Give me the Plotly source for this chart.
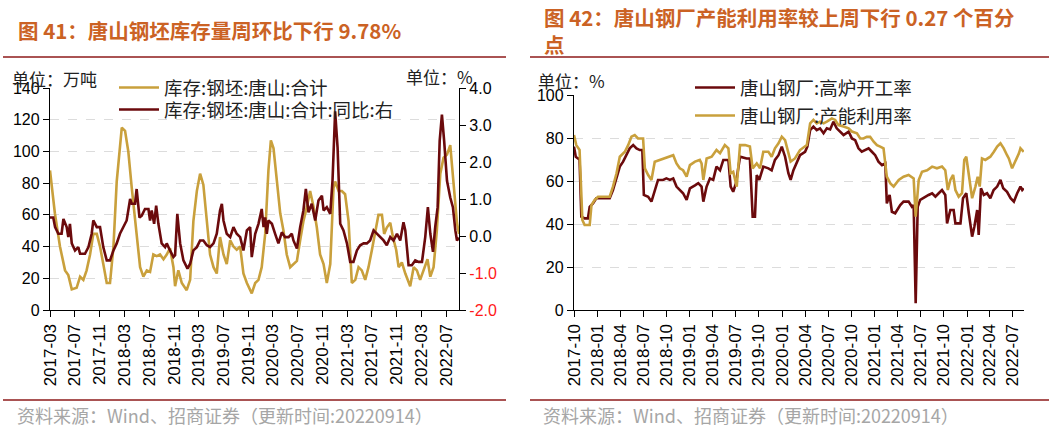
import plotly.graph_objects as go

W, H = 1053, 429

# ---- 图41: 唐山钢坯库存 (万吨) ----
stock_dates = [
    "2017-03-01", "2017-03-25", "2017-04-19", "2017-05-14", "2017-05-30", "2017-06-16", "2017-07-10",
    "2017-07-27", "2017-08-12", "2017-08-28", "2017-09-14", "2017-09-30", "2017-10-17", "2017-11-02",
    "2017-11-18", "2017-12-05", "2017-12-21", "2018-01-07", "2018-01-23", "2018-02-17", "2018-03-05",
    "2018-03-21", "2018-04-07", "2018-04-23", "2018-05-18", "2018-06-03", "2018-06-20", "2018-07-06",
    "2018-07-22", "2018-08-08", "2018-08-24", "2018-09-10", "2018-09-26", "2018-10-12", "2018-10-29",
    "2018-11-06", "2018-11-22", "2018-12-09", "2019-01-02", "2019-01-19", "2019-02-04", "2019-02-21",
    "2019-03-09", "2019-03-25", "2019-04-11", "2019-04-27", "2019-05-14", "2019-05-30", "2019-06-15",
    "2019-07-02", "2019-07-18", "2019-08-04", "2019-08-20", "2019-09-05", "2019-09-22", "2019-10-08",
    "2019-10-25", "2019-11-18", "2019-12-05", "2019-12-21", "2020-01-06", "2020-01-23", "2020-02-08",
    "2020-02-20", "2020-03-04", "2020-03-20", "2020-04-06", "2020-04-22", "2020-05-08", "2020-05-25",
    "2020-06-10", "2020-06-27", "2020-07-13", "2020-07-29", "2020-08-15", "2020-08-31", "2020-09-17",
    "2020-10-03", "2020-10-19", "2020-11-05", "2020-11-21", "2020-12-08", "2020-12-24", "2021-01-01",
    "2021-01-18", "2021-02-03", "2021-02-19", "2021-03-08", "2021-03-24", "2021-04-10", "2021-04-26",
    "2021-05-12", "2021-05-29", "2021-06-14", "2021-07-01", "2021-07-17", "2021-08-02", "2021-08-19",
    "2021-08-30", "2021-09-12", "2021-09-29", "2021-10-12", "2021-10-28", "2021-11-09", "2021-11-25",
    "2021-12-12", "2022-01-05", "2022-01-22", "2022-02-07", "2022-02-23", "2022-03-12", "2022-03-31",
    "2022-04-14", "2022-04-30", "2022-05-16", "2022-06-02", "2022-06-18", "2022-07-05", "2022-07-21",
    "2022-08-06", "2022-08-23", "2022-09-02",
]
stock_total = [
    88, 61, 40, 25, 22, 13, 14, 21, 19, 25, 35, 48, 48, 40, 29, 17, 17, 40, 81, 115, 113,
    100, 77, 56, 27, 21, 25, 24, 35, 34, 35, 32, 35, 39, 27, 15, 25, 17, 12.5, 19, 56, 75,
    86, 79, 56, 35, 27, 23, 46, 35, 29, 44, 40, 38, 40, 23, 17, 10.5, 17, 19, 27, 48, 88,
    107, 102, 81, 61, 50, 35, 27, 29, 31, 44, 56, 65, 75, 65, 52, 35, 29, 17, 29, 77, 81,
    75, 75, 73, 56, 17, 19, 27, 25, 19, 27, 38, 50, 60, 60, 48, 52, 55, 46, 38, 27, 30,
    23, 15, 27, 25, 19, 25, 32, 21, 27, 50, 86, 96, 98, 104, 81, 55, 48,
]

yoy_dates = [
    "2017-03-01", "2017-03-17", "2017-03-26", "2017-04-11", "2017-04-27", "2017-05-06", "2017-05-22",
    "2017-05-30", "2017-06-07", "2017-06-16", "2017-07-02", "2017-07-18", "2017-07-27", "2017-08-20",
    "2017-09-06", "2017-09-22", "2017-09-30", "2017-10-17", "2017-11-02", "2017-11-18", "2017-12-05",
    "2017-12-21", "2018-01-07", "2018-01-23", "2018-02-08", "2018-02-25", "2018-03-13", "2018-03-30",
    "2018-04-07", "2018-04-23", "2018-05-01", "2018-05-15", "2018-05-26", "2018-06-11", "2018-06-28",
    "2018-07-06", "2018-07-14", "2018-07-26", "2018-08-05", "2018-08-16", "2018-09-01", "2018-09-18",
    "2018-09-26", "2018-10-12", "2018-10-29", "2018-11-06", "2018-11-17", "2018-12-01", "2018-12-17",
    "2019-01-06", "2019-01-19", "2019-02-04", "2019-02-21", "2019-03-09", "2019-03-25", "2019-04-11",
    "2019-04-27", "2019-05-14", "2019-05-30", "2019-06-15", "2019-06-24", "2019-07-02", "2019-07-18",
    "2019-08-04", "2019-08-20", "2019-09-05", "2019-09-22", "2019-10-08", "2019-10-25", "2019-11-10",
    "2019-11-18", "2019-12-05", "2019-12-21", "2020-01-06", "2020-01-15", "2020-01-23", "2020-01-31",
    "2020-02-08", "2020-02-25", "2020-03-12", "2020-03-28", "2020-04-14", "2020-04-30", "2020-05-17",
    "2020-06-02", "2020-06-10", "2020-06-27", "2020-07-13", "2020-07-29", "2020-08-10", "2020-08-23",
    "2020-09-08", "2020-09-25", "2020-10-11", "2020-10-28", "2020-11-05", "2020-11-21", "2020-12-08",
    "2020-12-19", "2021-01-01", "2021-01-13", "2021-01-26", "2021-02-11", "2021-02-28", "2021-03-16",
    "2021-04-01", "2021-04-18", "2021-05-04", "2021-05-21", "2021-06-06", "2021-06-22", "2021-07-09",
    "2021-07-25", "2021-08-11", "2021-08-27", "2021-09-12", "2021-09-29", "2021-10-15", "2021-11-01",
    "2021-11-17", "2021-12-03", "2021-12-12", "2021-12-28", "2022-01-13", "2022-01-30", "2022-02-15",
    "2022-03-04", "2022-03-20", "2022-04-02", "2022-04-14", "2022-04-27", "2022-05-08", "2022-05-20",
    "2022-05-30", "2022-06-10", "2022-06-21", "2022-07-05", "2022-07-21", "2022-08-03", "2022-08-15",
    "2022-08-23", "2022-09-02",
]
stock_yoy = [
    0.5, 0.5, 0.24, 0.06, 0.06, 0.46, 0.24, -0.03, 0.33, -0.2, -0.39, -0.3, -0.48, -0.48,
    -0.3, 0.06, 0.42, 0.24, 0.24, -0.3, -0.66, -0.66, -0.39, -0.2, 0.06, 0.24, 0.42, 1.0,
    0.87, 0.87, 1.27, 0.5, 0.55, 0.73, 0.73, 0.42, 0.69, 0.33, 0.82, 0.33, -0.2, -0.3,
    -0.2, -0.39, -0.57, -0.52, 0.6, -0.2, -0.66, -0.88, -0.75, -0.39, -0.3, -0.12, -0.12, -0.25,
    -0.3, -0.2, 0.06, 0.69, 0.87, 0.42, 0.06, -0.03, 0.24, 0.06, -0.03, -0.39, 0.15, 0.24,
    -0.57, 0.06, 0.33, 0.73, 0.24, 0.5, 0.06, 0.42, 0.33, 0.06, -0.2, 0.1, -0.03, -0.03,
    0.06, -0.12, -0.34, 0.24, 0.69, 1.27, 0.64, 0.87, 0.42, 0.96, 1.09, 0.69, 0.78, 0.6,
    1.49, 3.37, 2.39, 0.33, 0.15, -0.2, -0.7, -0.7, -0.39, -0.25, -0.2, -0.2, -0.12, 0.15,
    0.06, -0.03, -0.12, -0.25, -0.03, -0.12, 0.06, -0.12, 0.37, 0.15, -0.79, -0.79, -0.66, -0.7,
    -0.7, -0.03, 0.78, 0.06, -0.43, 0.24, 0.78, 2.57, 3.28, 2.57, 1.49, 1.04, 0.78, 0.15,
    -0.12, -0.05,
]

# ---- 图42: 唐山钢厂高炉开工率 / 产能利用率 (%) ----
bf_dates = [
    "2017-10-01", "2017-10-08", "2017-10-17", "2017-10-23", "2017-10-30", "2017-11-12", "2017-11-25",
    "2017-12-02", "2017-12-15", "2017-12-28", "2018-02-06", "2018-02-19", "2018-03-04", "2018-03-18",
    "2018-03-31", "2018-04-13", "2018-04-26", "2018-05-09", "2018-05-23", "2018-06-05", "2018-06-18",
    "2018-06-28", "2018-07-04", "2018-07-21", "2018-08-03", "2018-08-16", "2018-08-29", "2018-09-18",
    "2018-10-01", "2018-10-15", "2018-10-28", "2018-11-10", "2018-11-23", "2018-12-06", "2018-12-20",
    "2019-01-02", "2019-01-22", "2019-02-04", "2019-02-17", "2019-02-24", "2019-03-09", "2019-03-22",
    "2019-04-04", "2019-04-17", "2019-05-01", "2019-05-14", "2019-06-03", "2019-06-12", "2019-06-22",
    "2019-07-03", "2019-07-19", "2019-08-14", "2019-08-27", "2019-09-07", "2019-09-16", "2019-09-23",
    "2019-10-03", "2019-10-19", "2019-11-08", "2019-11-21", "2019-12-04", "2019-12-18", "2019-12-31",
    "2020-01-13", "2020-01-26", "2020-02-04", "2020-02-15", "2020-02-28", "2020-03-12", "2020-04-01",
    "2020-04-10", "2020-04-21", "2020-05-04", "2020-05-17", "2020-05-30", "2020-06-13", "2020-06-26",
    "2020-07-09", "2020-07-22", "2020-08-04", "2020-08-18", "2020-08-31", "2020-09-20", "2020-10-03",
    "2020-10-16", "2020-10-29", "2020-11-11", "2020-11-25", "2020-12-08", "2020-12-21", "2021-01-03",
    "2021-01-16", "2021-01-30", "2021-02-12", "2021-02-18", "2021-03-01", "2021-03-10", "2021-03-23",
    "2021-04-12", "2021-04-25", "2021-05-15", "2021-05-28", "2021-06-04", "2021-06-12", "2021-06-20",
    "2021-06-30", "2021-07-20", "2021-08-02", "2021-08-16", "2021-08-29", "2021-09-11", "2021-09-24",
    "2021-10-07", "2021-10-14", "2021-10-27", "2021-11-09", "2021-11-16", "2021-12-06", "2021-12-16",
    "2021-12-29", "2022-01-08", "2022-01-21", "2022-01-30", "2022-02-10", "2022-02-16", "2022-02-25",
    "2022-03-08", "2022-03-21", "2022-04-03", "2022-04-16", "2022-04-30", "2022-05-13", "2022-05-24",
    "2022-06-08", "2022-06-22", "2022-07-05", "2022-07-18", "2022-07-31", "2022-08-07", "2022-08-13",
]
bf_rate = [
    76, 71.3, 70.5, 69.8, 43.4, 42.6, 42.6, 48, 49.6, 52, 52, 52, 55.8, 62,
    66.7, 69, 72, 75.2, 76.7, 75.2, 74.4, 74.4, 53.5, 52.7, 50.4, 55.8, 60.5, 60.5,
    61.2, 60.5, 61.2, 57.4, 55.8, 54.3, 51.2, 56.6, 58, 59, 57.4, 50.4, 57.4, 61.2,
    60.5, 66.7, 65, 69.8, 69.8, 57.4, 55, 59, 71.3, 70.5, 70.5, 43.4, 43.4, 62.8,
    60.5, 66.7, 65.9, 65, 69.8, 72, 76, 71.3, 63.6, 60.5, 65, 68.2, 72, 73.6,
    76, 83.7, 85.3, 83.7, 84.5, 82.2, 84.5, 84, 87.6, 84.5, 83, 81.4, 83, 79.8,
    79, 75.2, 73.6, 74.4, 75.2, 73.6, 72, 69, 67.4, 68.2, 49.6, 53.5, 45.7, 45,
    48.8, 50.4, 50.4, 48, 48.8, 3.1, 48, 51.2, 52.7, 53.5, 54.3, 52.7, 54.3, 55.8,
    53.5, 40.3, 46.5, 46.5, 40.3, 40.3, 52, 54.3, 45, 34.1, 38.8, 46.5, 34.9, 56.6,
    53.5, 54.3, 52, 55.8, 57.4, 60.5, 56.6, 55, 52, 50.4, 54.3, 57.4, 55.8, 56.6,
]

cap_dates = [
    "2017-10-01", "2017-10-10", "2017-10-23", "2017-11-03", "2017-11-12", "2017-12-02", "2017-12-09",
    "2017-12-22", "2018-01-04", "2018-02-19", "2018-03-04", "2018-03-18", "2018-03-31", "2018-04-20",
    "2018-05-03", "2018-05-16", "2018-05-29", "2018-06-11", "2018-07-01", "2018-07-08", "2018-07-21",
    "2018-08-03", "2018-08-16", "2018-09-05", "2018-09-25", "2018-10-15", "2018-10-28", "2018-11-10",
    "2018-11-23", "2018-12-06", "2018-12-20", "2019-01-02", "2019-01-22", "2019-02-10", "2019-02-17",
    "2019-02-24", "2019-03-09", "2019-03-29", "2019-04-17", "2019-05-01", "2019-05-20", "2019-06-03",
    "2019-06-12", "2019-06-22", "2019-07-06", "2019-07-19", "2019-08-08", "2019-08-27", "2019-09-07",
    "2019-09-23", "2019-10-06", "2019-10-19", "2019-11-08", "2019-11-21", "2019-12-04", "2019-12-18",
    "2019-12-31", "2020-01-13", "2020-01-26", "2020-02-04", "2020-02-21", "2020-03-12", "2020-04-08",
    "2020-04-21", "2020-05-04", "2020-05-17", "2020-05-30", "2020-06-13", "2020-06-26", "2020-07-16",
    "2020-07-29", "2020-08-11", "2020-08-31", "2020-09-20", "2020-10-03", "2020-10-23", "2020-11-05",
    "2020-11-18", "2020-12-01", "2020-12-14", "2020-12-28", "2021-01-10", "2021-01-23", "2021-02-05",
    "2021-02-18", "2021-03-04", "2021-03-17", "2021-04-06", "2021-04-25", "2021-05-15", "2021-06-04",
    "2021-06-12", "2021-06-24", "2021-07-07", "2021-07-27", "2021-08-16", "2021-09-04", "2021-09-24",
    "2021-10-07", "2021-10-17", "2021-10-27", "2021-11-07", "2021-11-16", "2021-11-29", "2021-12-12",
    "2021-12-21", "2021-12-29", "2022-01-08", "2022-01-21", "2022-02-03", "2022-02-12", "2022-02-20",
    "2022-03-01", "2022-03-14", "2022-04-03", "2022-04-17", "2022-04-30", "2022-05-13", "2022-05-26",
    "2022-06-08", "2022-06-15", "2022-06-28", "2022-07-11", "2022-07-25", "2022-07-31", "2022-08-13",
]
cap_rate = [
    81.4, 76.7, 74.4, 41.9, 39.5, 39.5, 48.8, 51.2, 52.7, 52.7, 57.4, 63.6, 71.3, 73.6,
    76.7, 80.6, 81.4, 79.8, 79.8, 65.9, 62.8, 60.5, 69, 69.8, 70.5, 71.3, 72, 68.2,
    65.9, 65, 62, 67.4, 69, 69.8, 68.2, 60.5, 70.5, 71.3, 74.4, 72.9, 76.7, 75.2,
    63.6, 64.3, 57.4, 76.7, 76.7, 76, 65.9, 68.2, 65.9, 73.6, 73.6, 71.3, 75.2, 77.5,
    80.6, 79, 72.9, 69, 70.5, 74.4, 76.7, 86.8, 88.4, 86.8, 87.6, 86.8, 87.6, 89.1,
    88.4, 86, 85.3, 84.5, 83, 82.2, 79.8, 79.8, 80.6, 80.6, 78.3, 76.7, 76, 75.2,
    62, 58.9, 57.4, 60.5, 62, 62.8, 61.2, 43.4, 60.5, 64.3, 65, 66.7, 65.9, 66.7,
    65, 55.8, 60.5, 62.8, 55.8, 52.7, 54.3, 69.8, 71.3, 62, 52, 57.4, 62, 57.4,
    70.5, 69.8, 71.3, 73.6, 76, 77.5, 75.2, 72, 70.5, 65.9, 69, 72.9, 75.2, 73.6,
]

left_y2_ticks = [-2, -1, 0, 1, 2, 3, 4]

GOLD = "#C9A03C"
MAROON = "#6B0A0C"
TITLE_ORANGE = "#CB6224"
RULE = "#8E1A1A"
CJK = "Noto Sans CJK SC, Noto Sans, sans-serif"
NUM = "Arial, Liberation Sans, sans-serif"


def px(x, y):
    """pixel position on the page -> paper coords"""
    return x / W, 1 - y / H


fig = go.Figure()
fig.add_trace(go.Scatter(x=stock_dates, y=stock_total, name="库存:钢坯:唐山:合计",
                         mode="lines", line=dict(color=GOLD, width=2.6),
                         xaxis="x", yaxis="y", legend="legend"))
fig.add_trace(go.Scatter(x=yoy_dates, y=stock_yoy, name="库存:钢坯:唐山:合计:同比:右",
                         mode="lines", line=dict(color=MAROON, width=2.6),
                         xaxis="x", yaxis="y2", legend="legend3"))
fig.add_trace(go.Scatter(x=bf_dates, y=bf_rate, name="唐山钢厂:高炉开工率",
                         mode="lines", line=dict(color=MAROON, width=2.6),
                         xaxis="x3", yaxis="y3", legend="legend2"))
fig.add_trace(go.Scatter(x=cap_dates, y=cap_rate, name="唐山钢厂:产能利用率",
                         mode="lines", line=dict(color=GOLD, width=2.6),
                         xaxis="x3", yaxis="y3", legend="legend4"))

axis_common = dict(showline=True, linecolor="black", linewidth=1.3, ticks="outside",
                   ticklen=6, tickcolor="black", tickwidth=1.3, automargin=False,
                   tickfont=dict(family=NUM, size=16, color="black"), zeroline=False)
xdate = dict(axis_common, type="date", tickformat="%Y-%m", tickangle=-90, showgrid=False,
             tickfont=dict(family=NUM, size=17, color="black"))
grid = dict(showgrid=True, gridcolor="#DCDCDC", griddash="dash", gridwidth=1)

y_lo, y_hi = 1 - 310 / H, 1 - 88 / H
y_hi3 = 1 - 95 / H


def leg(x, y):
    # one legend box per row so the row spacing matches the reference
    return dict(x=px(x, 0)[0], y=px(0, y)[1], xanchor="left", yanchor="middle",
                bgcolor="rgba(0,0,0,0)", font=dict(family=CJK, size=18.5, color="#222"),
                itemwidth=40)


fig.update_layout(
    width=W, height=H, margin=dict(l=0, r=0, t=0, b=0, autoexpand=False),
    paper_bgcolor="white", plot_bgcolor="white", showlegend=True,
    xaxis=dict(xdate, domain=[50 / W, 459 / W], range=["2017-03-01", "2022-09-02"],
               tick0="2017-03-01", dtick="M4", anchor="y"),
    yaxis=dict(axis_common, **grid, domain=[y_lo, y_hi], range=[0, 140], dtick=20, anchor="x"),
    yaxis2=dict(axis_common, overlaying="y", side="right", anchor="x", range=[-2, 4],
                showgrid=False, tickvals=left_y2_ticks,
                ticktext=[f"<span style='color:#FF1A1A'>{v:.1f}</span>" if v < 0 else f"{v:.1f}"
                          for v in left_y2_ticks]),
    xaxis3=dict(xdate, domain=[574 / W, 1024 / W], range=["2017-10-01", "2022-08-14"],
                tick0="2017-10-01", dtick="M3", anchor="y3"),
    yaxis3=dict(axis_common, **grid, domain=[y_lo, y_hi3], range=[0, 100], dtick=20, anchor="x3"),
    legend=leg(114, 88),
    legend3=leg(114, 110),
    legend2=leg(690, 88),
    legend4=leg(690, 116),
)

notes = [
    # (text, x px, y px, size, colour, bold)
    ("图 41：唐山钢坯库存量周环比下行 9.78%", 16, 30, 20.5, TITLE_ORANGE, True),
    ("图 42：唐山钢厂产能利用率较上周下行 0.27 个百分", 542, 17, 20.5, TITLE_ORANGE, True),
    ("点", 542, 44, 20.5, TITLE_ORANGE, True),
    ("单位：万吨", 10, 78, 17, "#222", False),
    ("单位：%", 404, 76, 17, "#222", False),
    ("单位：%", 536, 80, 17, "#222", False),
    ("资料来源：Wind、招商证券（更新时间:20220914）", 15, 415, 18, "#A6A6A6", False),
    ("资料来源：Wind、招商证券（更新时间:20220914）", 541, 415, 18, "#A6A6A6", False),
]
for text, x, y, size, color, bold in notes:
    ax, ay = px(x, y)
    fig.add_annotation(text=f"<b>{text}</b>" if bold else text, x=ax, y=ay,
                       xref="paper", yref="paper", xanchor="left", yanchor="middle",
                       showarrow=False, font=dict(family=CJK, size=size, color=color))

for x0, x1, y in [(3, 506, 57), (530, 1049, 57), (3, 506, 400), (530, 1049, 400)]:
    (a0, b0), (a1, _) = px(x0, y), px(x1, y)
    fig.add_shape(type="line", xref="paper", yref="paper", x0=a0, x1=a1, y0=b0, y1=b0,
                  line=dict(color=RULE, width=1.6))

# the page's default 8px body margin would push the figure off the window
fig.write_html("out.html", config={"displayModeBar": False},
               post_script="document.body.style.margin = '0';")
